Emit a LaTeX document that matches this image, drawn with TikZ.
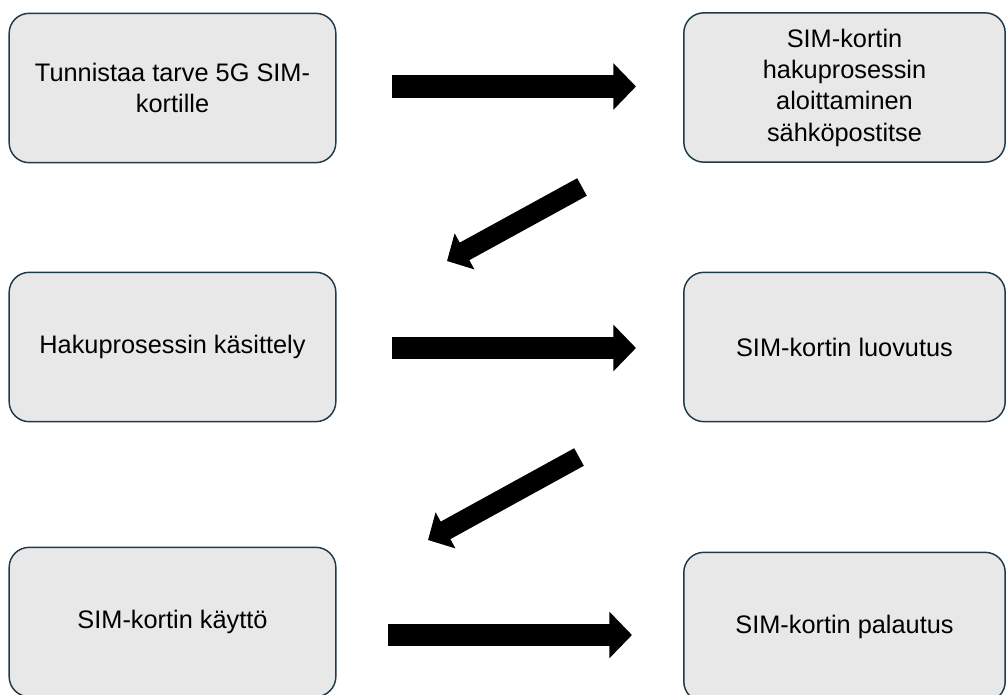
\documentclass[tikz,border=0pt]{standalone}
\usepackage{fontspec}
\setmainfont{Liberation Sans}
\usetikzlibrary{arrows.meta}
\definecolor{boxfill}{HTML}{E8E8E8}
\definecolor{boxline}{HTML}{1F3A4B}
\begin{document}
\begin{tikzpicture}[x=0.75pt,y=-0.75pt,
  stepbox/.style={draw=boxline, fill=boxfill, line width=1.1pt,
    rounded corners=15pt, minimum width=245pt, minimum height=112pt,
    align=center, inner sep=0pt, font=\fontsize{19}{23.5}\selectfont},
  widebox/.style={stepbox, minimum width=241pt},
  flatarrow/.style={line width=17pt, black,
    -{Triangle[length=17pt, width=34pt]}},
  slantarrow/.style={line width=15pt, black,
    -{Triangle[length=15pt, width=30pt]}}]
\useasboundingbox (0,0) rectangle (1006,695);

% process steps
\node[stepbox] (need)    at (172.5,88)  {Tunnistaa tarve 5G SIM-\\kortille};
\node[widebox] (request) at (844.5,87.5) {SIM-kortin\\hakuprosessin\\aloittaminen\\sähköpostitse};
\node[stepbox] (handle)  at (172.5,347) {Hakuprosessin käsittely};
\node[widebox] (deliver) at (844.5,347) {SIM-kortin luovutus};
\node[stepbox] (use)     at (172.5,622) {SIM-kortin käyttö};
\node[widebox] (return)  at (844.5,627) {SIM-kortin palautus};

% arrow end points between the steps
\coordinate (a1s) at (392,86.5);  \coordinate (a1e) at (636,86.5);
\coordinate (d1s) at (582,187);   \coordinate (d1e) at (447,261);
\coordinate (a2s) at (392,348);   \coordinate (a2e) at (636,348);
\coordinate (d2s) at (579,457);   \coordinate (d2e) at (428,540);
\coordinate (a3s) at (388,635);   \coordinate (a3e) at (632,635);

\draw[flatarrow]  (a1s) -- (a1e);
\draw[slantarrow] (d1s) -- (d1e);
\draw[flatarrow]  (a2s) -- (a2e);
\draw[slantarrow] (d2s) -- (d2e);
\draw[flatarrow]  (a3s) -- (a3e);
\end{tikzpicture}
\end{document}
